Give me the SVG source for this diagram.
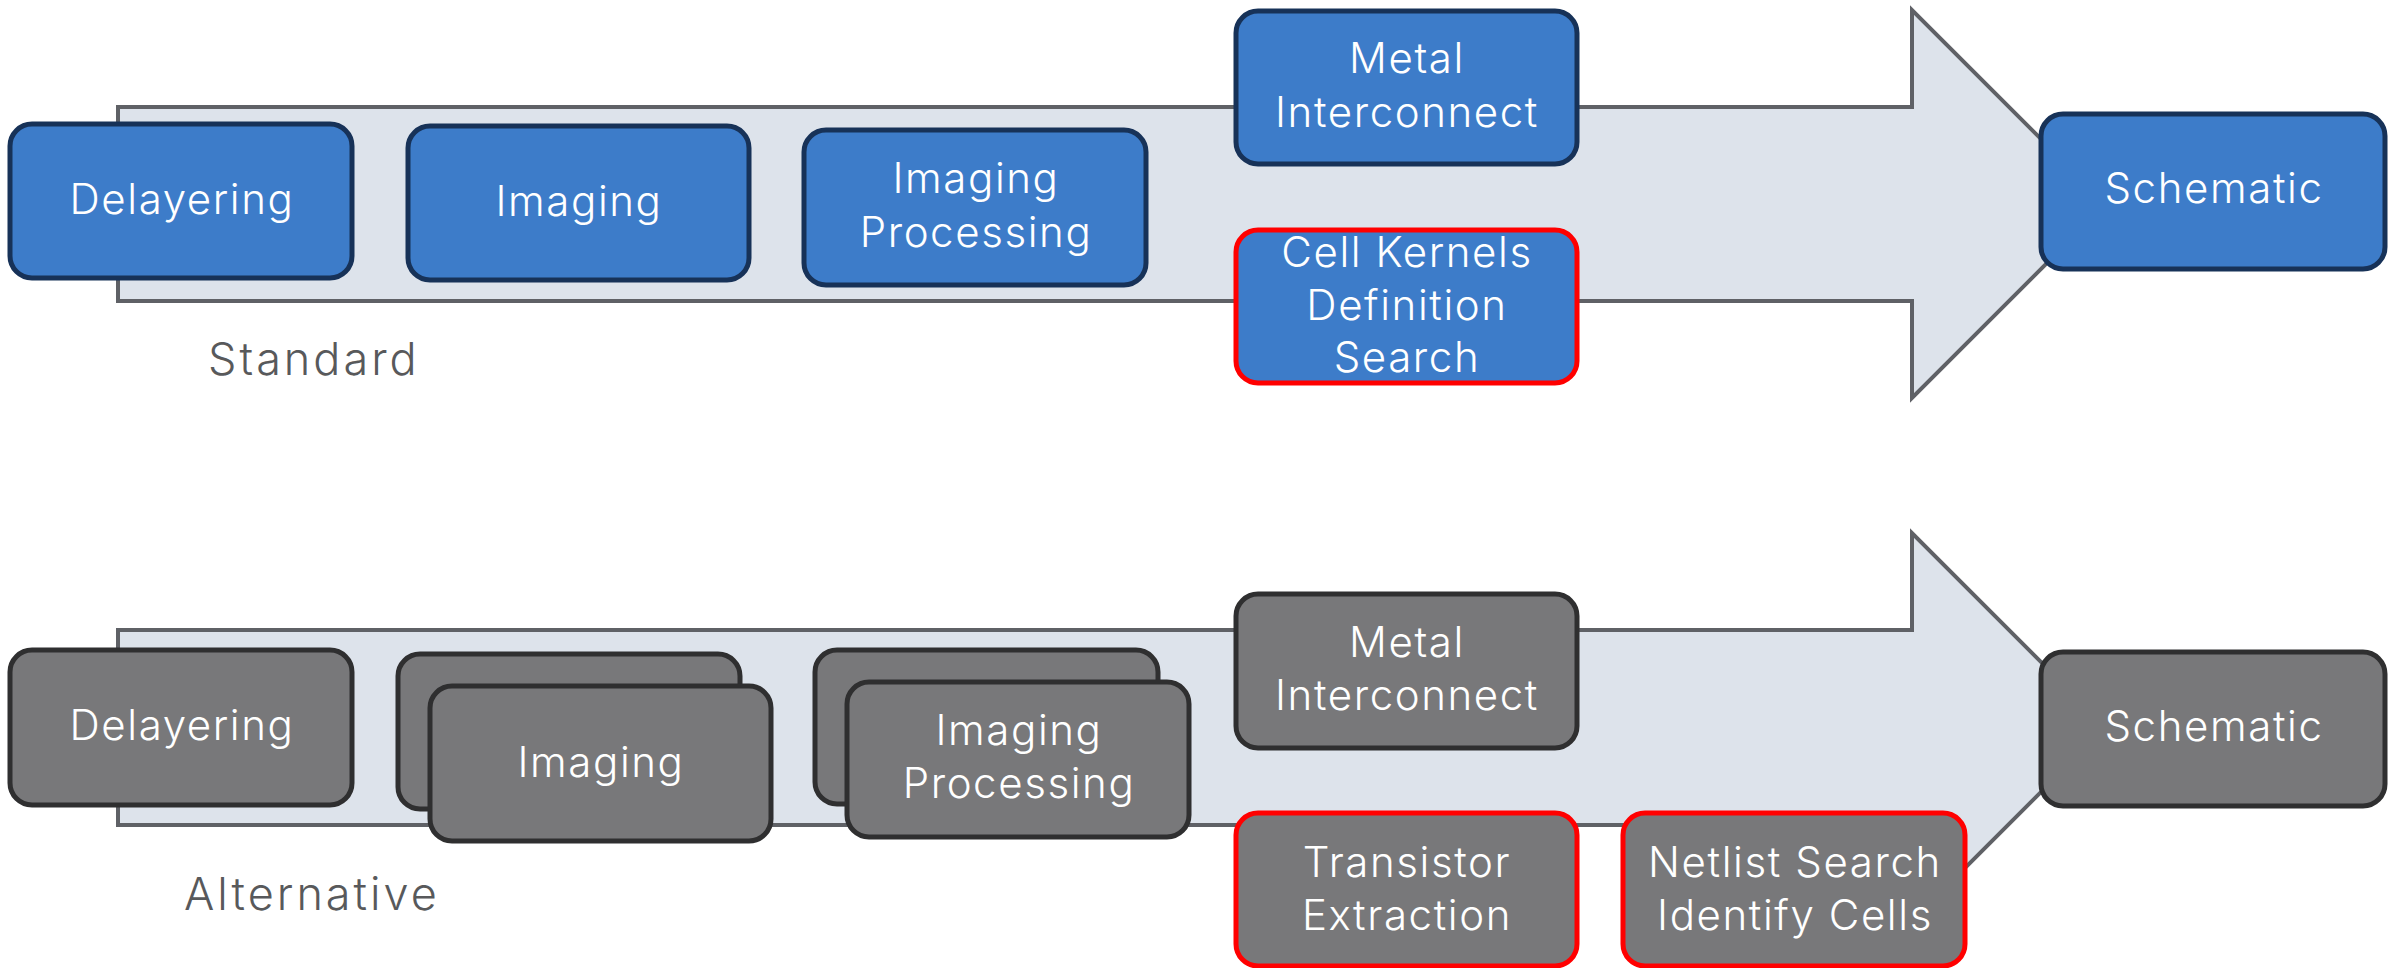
<svg xmlns="http://www.w3.org/2000/svg" width="2397" height="968" viewBox="0 0 2397 968">
  <style>
    .flow { fill: #dde3eb; stroke: #5f6166; stroke-width: 4; stroke-linejoin: miter; }
    .blue { fill: #3d7cc9; stroke: #173258; stroke-width: 5; }
    .gray { fill: #78787a; stroke: #2f2f30; stroke-width: 5; }
    .red { stroke: #ff0000; }
    .t { font-family: Inter, "Open Sans", "Liberation Sans", sans-serif; font-weight: 300; font-size: 42px; letter-spacing: 1.6px; fill: #ffffff; text-anchor: middle; }
    .lbl { font-family: Inter, "Open Sans", "Liberation Sans", sans-serif; font-weight: 300; font-size: 45px; letter-spacing: 3px; fill: #58595b; }
  </style>
  <rect width="2397" height="968" fill="#ffffff"/>

  <!-- process arrows (flow direction) -->
  <g id="connectors">
    <path class="flow" d="M118,107 H1912 V10 L2106,204 L1912,398 V301 H118 Z"/>
    <path class="flow" d="M118,630 H1912 V533 L2106,727 L1912,921 V825 H118 Z"/>
  </g>

  <!-- standard flow -->
  <g id="std-delayering">
    <rect class="blue" x="10" y="124" width="342" height="154" rx="22"/>
    <text class="t" x="182" y="214">Delayering</text>
  </g>
  <g id="std-imaging">
    <rect class="blue" x="408" y="126" width="341" height="154" rx="22"/>
    <text class="t" x="579" y="216">Imaging</text>
  </g>
  <g id="std-imaging-processing">
    <rect class="blue" x="804" y="130" width="342" height="155" rx="22"/>
    <text class="t" x="976" y="193">Imaging</text>
    <text class="t" x="976" y="247">Processing</text>
  </g>
  <g id="std-metal-interconnect">
    <rect class="blue" x="1236" y="11" width="341" height="153" rx="22"/>
    <text class="t" x="1407" y="73">Metal</text>
    <text class="t" x="1407" y="127">Interconnect</text>
  </g>
  <g id="std-cell-kernels">
    <rect class="blue red" x="1236" y="230" width="341" height="153" rx="22"/>
    <text class="t" x="1407" y="267">Cell Kernels</text>
    <text class="t" x="1407" y="320">Definition</text>
    <text class="t" x="1407" y="372">Search</text>
  </g>
  <g id="std-schematic">
    <rect class="blue" x="2041" y="114" width="344" height="155" rx="22"/>
    <text class="t" x="2214" y="203">Schematic</text>
  </g>
  <text class="lbl" x="208" y="375">Standard</text>

  <!-- alternative flow -->
  <g id="alt-delayering">
    <rect class="gray" x="10" y="650" width="342" height="155" rx="22"/>
    <text class="t" x="182" y="740">Delayering</text>
  </g>
  <g id="alt-imaging">
    <rect class="gray" x="398" y="654" width="342" height="155" rx="22"/>
    <rect class="gray" x="430" y="686" width="341" height="155" rx="22"/>
    <text class="t" x="601" y="777">Imaging</text>
  </g>
  <g id="alt-imaging-processing">
    <rect class="gray" x="815" y="650" width="343" height="154" rx="22"/>
    <rect class="gray" x="847" y="682" width="342" height="155" rx="22"/>
    <text class="t" x="1019" y="745">Imaging</text>
    <text class="t" x="1019" y="798">Processing</text>
  </g>
  <g id="alt-metal-interconnect">
    <rect class="gray" x="1236" y="594" width="341" height="154" rx="22"/>
    <text class="t" x="1407" y="657">Metal</text>
    <text class="t" x="1407" y="710">Interconnect</text>
  </g>
  <g id="alt-transistor-extraction">
    <rect class="gray red" x="1236" y="813" width="341" height="153" rx="22"/>
    <text class="t" x="1407" y="877">Transistor</text>
    <text class="t" x="1407" y="930">Extraction</text>
  </g>
  <g id="alt-netlist-search">
    <rect class="gray red" x="1623" y="813" width="342" height="153" rx="22"/>
    <text class="t" x="1795" y="877">Netlist Search</text>
    <text class="t" x="1795" y="930">Identify Cells</text>
  </g>
  <g id="alt-schematic">
    <rect class="gray" x="2041" y="652" width="344" height="154" rx="22"/>
    <text class="t" x="2214" y="741">Schematic</text>
  </g>
  <text class="lbl" x="184" y="910">Alternative</text>
</svg>
